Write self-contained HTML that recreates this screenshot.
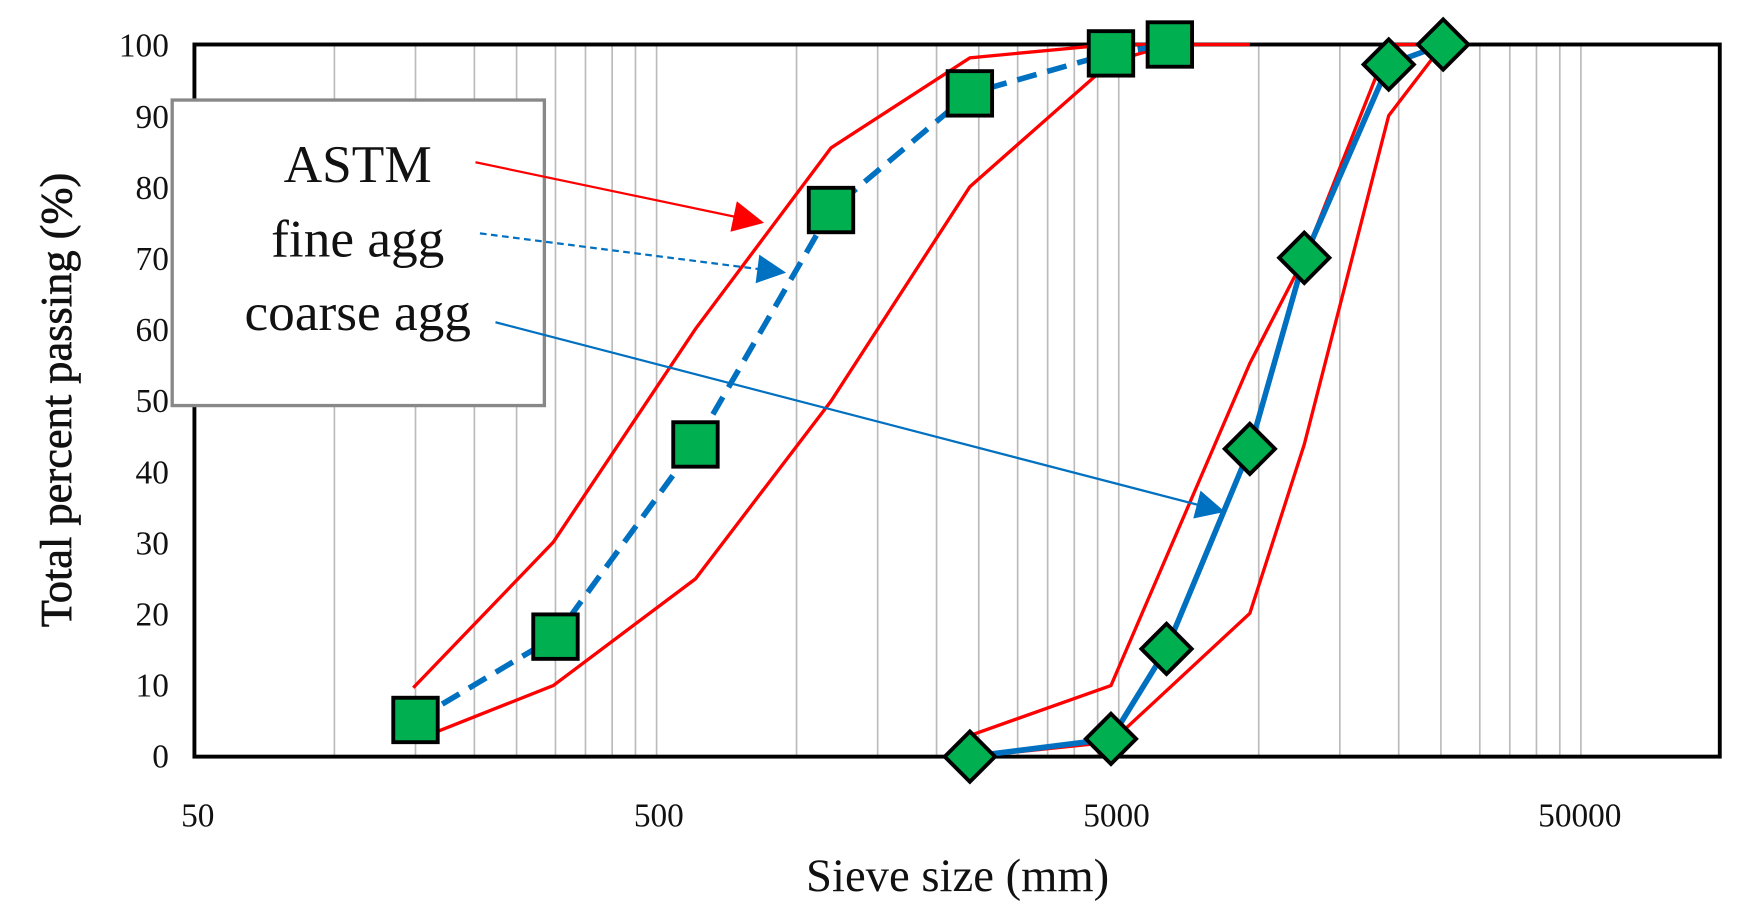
<!DOCTYPE html><html><head><style>body{margin:0;background:#fff}svg{display:block}text{font-family:"Liberation Serif",serif;fill:#111}</style></head><body>
<svg width="1742" height="920" viewBox="0 0 1568 828" xmlns="http://www.w3.org/2000/svg">
<defs>
<marker id="ab" viewBox="0 0 10 10" markerWidth="30" markerHeight="26" refX="9" refY="5" orient="auto" markerUnits="userSpaceOnUse"><path d="M0,0L10,5L0,10z" fill="#0070c0"/></marker>
<marker id="ar2" viewBox="0 0 10 10" markerWidth="32" markerHeight="28" refX="9" refY="5" orient="auto" markerUnits="userSpaceOnUse"><path d="M0,0L10,5L0,10z" fill="#f00"/></marker>
</defs>
<g stroke="#bbb" stroke-width="1.5">
<line x1="301" y1="40" x2="301" y2="681"/><line x1="374" y1="40" x2="374" y2="681"/><line x1="427" y1="40" x2="427" y2="681"/><line x1="465" y1="40" x2="465" y2="681"/><line x1="500" y1="40" x2="500" y2="681"/><line x1="527" y1="40" x2="527" y2="681"/><line x1="551" y1="40" x2="551" y2="681"/><line x1="572" y1="40" x2="572" y2="681"/><line x1="591" y1="40" x2="591" y2="681"/>
<line x1="717" y1="40" x2="717" y2="681"/><line x1="790" y1="40" x2="790" y2="681"/><line x1="843" y1="40" x2="843" y2="681"/><line x1="881" y1="40" x2="881" y2="681"/><line x1="916" y1="40" x2="916" y2="681"/><line x1="943" y1="40" x2="943" y2="681"/><line x1="967" y1="40" x2="967" y2="681"/><line x1="988" y1="40" x2="988" y2="681"/><line x1="1007" y1="40" x2="1007" y2="681"/>
<line x1="1133" y1="40" x2="1133" y2="681"/><line x1="1206" y1="40" x2="1206" y2="681"/><line x1="1259" y1="40" x2="1259" y2="681"/><line x1="1297" y1="40" x2="1297" y2="681"/><line x1="1332" y1="40" x2="1332" y2="681"/><line x1="1359" y1="40" x2="1359" y2="681"/><line x1="1383" y1="40" x2="1383" y2="681"/><line x1="1404" y1="40" x2="1404" y2="681"/><line x1="1423" y1="40" x2="1423" y2="681"/>
</g>
<rect x="175" y="40" width="1373" height="641" fill="none" stroke="#000" stroke-width="3.5"/>
<g font-size="30" text-anchor="end">
<text x="152" y="691">0</text><text x="152" y="627">10</text><text x="152" y="563">20</text><text x="152" y="499">30</text><text x="152" y="435">40</text><text x="152" y="371">50</text><text x="152" y="307">60</text><text x="152" y="243">70</text><text x="152" y="179">80</text><text x="152" y="115">90</text><text x="152" y="51">100</text>
</g>
<g font-size="30" text-anchor="middle">
<text x="178" y="744">50</text><text x="593" y="744">500</text><text x="1005" y="744">5000</text><text x="1422" y="744">50000</text>
</g>
<text x="862" y="802" font-size="42" text-anchor="middle">Sieve size (mm)</text>
<text transform="translate(64,360) rotate(-90)" font-size="40" text-anchor="middle" stroke="#111" stroke-width="0.6">Total percent passing (%)</text>
<g fill="none" stroke="#f00" stroke-width="3">
<polyline points="372,619 498,488 626,296 748,133 873,52 1000,40 1125,40"/>
<polyline points="372,667 498,617 626,521 748,361 873,168 1000,56 1053,40"/>
<polyline points="873,662 1000,617 1125,327 1174,232 1250,40 1299,40"/>
<polyline points="873,681 1000,668 1125,552 1174,400 1250,104 1299,40"/>
</g>
<polyline points="374,648 500,573 626,400 748,189 873,84 1000,48 1053,40" fill="none" stroke="#0070c0" stroke-width="5" stroke-dasharray="18,10"/>
<polyline points="873,681 1000,665 1050,584 1125,404 1174,232 1250,58 1299,40" fill="none" stroke="#0070c0" stroke-width="5"/>
<g fill="#00b050" stroke="#000" stroke-width="3.5">
<rect x="354" y="628" width="40" height="40"/><rect x="480" y="553" width="40" height="40"/><rect x="606" y="380" width="40" height="40"/><rect x="728" y="169" width="40" height="40"/><rect x="853" y="64" width="40" height="40"/><rect x="980" y="28" width="40" height="40"/><rect x="1033" y="20" width="40" height="40"/>
<g transform="translate(873,681) rotate(45)"><rect x="-16" y="-16" width="32" height="32"/></g>
<g transform="translate(1000,665) rotate(45)"><rect x="-16" y="-16" width="32" height="32"/></g>
<g transform="translate(1050,584) rotate(45)"><rect x="-16" y="-16" width="32" height="32"/></g>
<g transform="translate(1125,404) rotate(45)"><rect x="-16" y="-16" width="32" height="32"/></g>
<g transform="translate(1174,232) rotate(45)"><rect x="-16" y="-16" width="32" height="32"/></g>
<g transform="translate(1250,58) rotate(45)"><rect x="-16" y="-16" width="32" height="32"/></g>
<g transform="translate(1299,40) rotate(45)"><rect x="-16" y="-16" width="32" height="32"/></g>
</g>
<rect x="155" y="90" width="335" height="275" fill="#fff" stroke="#888" stroke-width="3"/>
<g font-size="48" text-anchor="middle"><text x="322" y="164">ASTM</text><text x="322" y="231">fine agg</text><text x="322" y="297">coarse agg</text></g>
<line x1="428" y1="146" x2="685" y2="200" stroke="#f00" stroke-width="2" marker-end="url(#ar2)"/>
<line x1="432" y1="210" x2="705" y2="245" stroke="#0070c0" stroke-width="2" stroke-dasharray="6,4" marker-end="url(#ab)"/>
<line x1="446" y1="290" x2="1100" y2="460" stroke="#0070c0" stroke-width="2" marker-end="url(#ab)"/>
</svg></body></html>
